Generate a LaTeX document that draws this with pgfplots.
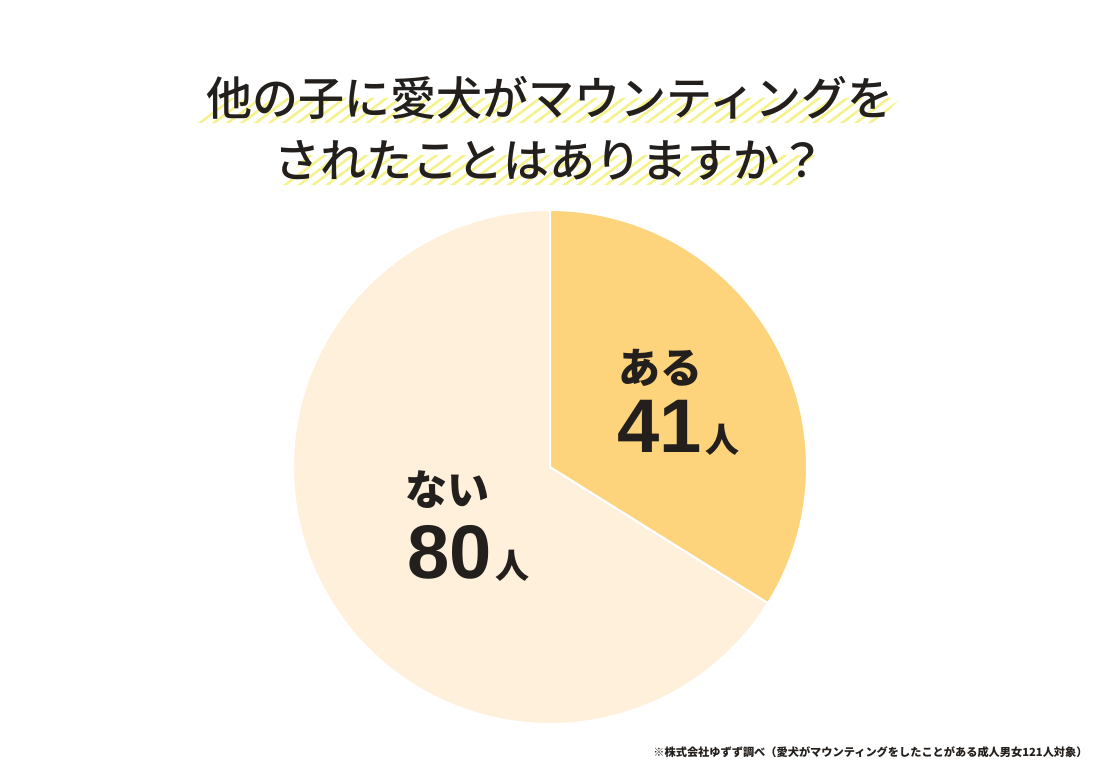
\documentclass[border=0pt]{standalone}
\usepackage{pgfplots}
\pgfplotsset{compat=1.18}
\usepackage{fontspec}
\usetikzlibrary{patterns.meta}
\newfontfamily\jp{Noto Sans CJK JP}
\newfontfamily\jpm{Noto Sans CJK JP Medium}
\newfontfamily\num{Liberation Sans}
\definecolor{cAru}{HTML}{FDD37B}
\definecolor{cNai}{HTML}{FEF0DA}
\definecolor{cTxt}{HTML}{231F1C}
\definecolor{cStripe}{HTML}{F5F18C}

% answers (people)
\def\nAru{41}
\def\nNai{80}

\begin{document}
\begin{tikzpicture}
\pgfmathsetmacro{\aEnd}{90-360*\nAru/(\nAru+\nNai)}
\begin{axis}[
    width=550pt, height=384pt, scale only axis,
    xmin=0, xmax=1100, ymin=0, ymax=768,
    hide axis, clip=false,
]
\path (0,0) rectangle (1100,768);

% title highlight stripes
\fill[pattern={Lines[angle=37, distance=4.2pt, line width=1.3pt]}, pattern color=cStripe]
    (198,645) -- (878,645) -- (900,670) -- (220,670) -- cycle;
\fill[pattern={Lines[angle=37, distance=4.2pt, line width=1.3pt]}, pattern color=cStripe]
    (282,583) -- (793,583) -- (817,613) -- (306,613) -- cycle;

% title
\node[font=\jpm\fontsize{23pt}{28pt}\selectfont, text=cTxt] at (550,670)
    {他の子に愛犬がマウンティングを};
\node[font=\jpm\fontsize{23pt}{28pt}\selectfont, text=cTxt] at (550,608)
    {されたことはありますか？};

% pie
\addplot[fill=cNai, draw=white, line width=1pt, domain=90:\aEnd+360, samples=160, variable=\t]
    ({550+257*cos(\t)}, {301+257*sin(\t)}) -- (550,301) -- cycle;
\addplot[fill=cAru, draw=white, line width=1pt, domain=\aEnd:90, samples=100, variable=\t]
    ({550+257*cos(\t)}, {301+257*sin(\t)}) -- (550,301) -- cycle;

% labels
\node[anchor=base, font=\jp\bfseries\fontsize{21pt}{24pt}\selectfont, text=cTxt] at (660,385) {ある};
\node[anchor=base west, inner sep=0pt, text=cTxt] at (617,316)
    {{\num\bfseries\fontsize{38pt}{40pt}\selectfont 41}\,{\jp\bfseries\fontsize{17pt}{20pt}\selectfont 人}};
\node[anchor=base, font=\jp\bfseries\fontsize{21pt}{24pt}\selectfont, text=cTxt] at (447,263) {ない};
\node[anchor=base west, inner sep=0pt, text=cTxt] at (407,190)
    {{\num\bfseries\fontsize{38pt}{40pt}\selectfont 80}\,{\jp\bfseries\fontsize{17pt}{20pt}\selectfont 人}};

% source note
\node[anchor=base east, inner sep=0pt, font=\jp\bfseries\fontsize{5.6pt}{7pt}\selectfont, text=cTxt] at (1088,12)
    {※株式会社ゆずず調べ（愛犬がマウンティングをしたことがある成人男女121人対象）};
\end{axis}
\end{tikzpicture}
\end{document}
